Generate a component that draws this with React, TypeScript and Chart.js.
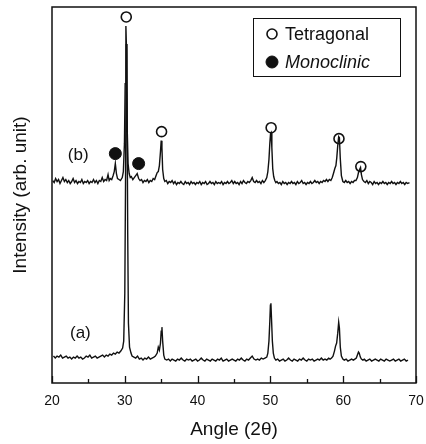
import React, { useEffect, useRef } from "react";
import { Chart, registerables } from "chart.js";

Chart.register(...registerables);

// Angle (2θ) tick labels
const angleTicks = [20, 30, 40, 50, 60, 70];
const minorTicks = [25, 35, 45, 55, 65];

// Pattern (a): [2θ, intensity]
const patternA: [number, number][] = [
  [20.2, 27], [20.45, 25], [20.7, 27], [20.95, 26], [21.2, 28], [21.45, 25], [21.7, 26], [21.95, 27],
  [22.2, 25], [22.45, 26], [22.7, 24], [22.95, 26], [23.2, 25], [23.45, 27], [23.7, 25], [23.95, 26],
  [24.2, 24], [24.45, 25], [24.7, 27], [24.95, 26], [25.2, 28], [25.45, 25], [25.7, 26], [25.95, 27],
  [26.2, 25], [26.45, 26], [26.7, 27], [26.95, 28], [27.2, 26], [27.45, 28], [27.7, 27], [27.95, 29],
  [28.2, 28], [28.45, 30], [28.7, 29], [28.95, 31], [29.2, 30], [29.45, 32], [29.7, 35], [29.85, 42],
  [30.0, 90], [30.1, 200], [30.2, 340], [30.3, 300], [30.4, 150], [30.5, 60], [30.65, 36], [30.85, 30],
  [31.0, 27], [31.25, 26], [31.5, 25], [31.75, 27], [32.0, 24], [32.25, 25], [32.5, 23], [32.75, 25],
  [33.0, 24], [33.25, 26], [33.5, 24], [33.75, 25], [34.0, 26], [34.2, 27], [34.45, 30], [34.6, 36],
  [34.75, 33], [34.9, 40], [35.0, 52], [35.1, 56], [35.2, 42], [35.35, 28], [35.5, 24], [35.75, 23],
  [36.0, 24], [36.25, 22], [36.5, 24], [36.75, 23], [37.0, 22], [37.25, 24], [37.5, 23], [37.75, 25],
  [38.0, 23], [38.25, 22], [38.5, 24], [38.75, 23], [39.0, 24], [39.25, 22], [39.5, 23], [39.75, 24],
  [40.0, 22], [40.25, 23], [40.5, 25], [40.75, 23], [41.0, 22], [41.25, 24], [41.5, 23], [41.75, 22],
  [42.0, 24], [42.25, 23], [42.5, 22], [42.75, 24], [43.0, 23], [43.25, 25], [43.5, 22], [43.75, 23],
  [44.0, 24], [44.25, 22], [44.5, 23], [44.75, 24], [45.0, 23], [45.25, 22], [45.5, 24], [45.75, 23],
  [46.0, 25], [46.25, 23], [46.5, 22], [46.75, 24], [47.0, 23], [47.25, 25], [47.5, 27], [47.75, 24],
  [48.0, 23], [48.25, 24], [48.5, 23], [48.75, 25], [49.0, 24], [49.25, 25], [49.5, 26], [49.65, 30],
  [49.8, 42], [49.92, 62], [50.0, 78], [50.07, 80], [50.15, 65], [50.27, 42], [50.4, 30], [50.55, 25],
  [50.75, 23], [51.0, 24], [51.25, 22], [51.5, 23], [51.75, 24], [52.0, 22], [52.25, 23], [52.5, 25],
  [52.75, 23], [53.0, 22], [53.25, 24], [53.5, 23], [53.75, 22], [54.0, 24], [54.25, 23], [54.5, 25],
  [54.75, 23], [55.0, 22], [55.25, 24], [55.5, 23], [55.75, 24], [56.0, 22], [56.25, 23], [56.5, 24],
  [56.75, 23], [57.0, 25], [57.25, 23], [57.5, 24], [57.75, 23], [58.0, 25], [58.2, 24], [58.4, 25],
  [58.6, 27], [58.8, 32], [58.95, 37], [59.1, 40], [59.25, 50], [59.38, 61], [59.48, 55], [59.6, 36],
  [59.75, 27], [59.95, 24], [60.15, 23], [60.4, 24], [60.65, 22], [60.9, 23], [61.15, 24], [61.4, 23],
  [61.6, 24], [61.8, 25], [61.95, 28], [62.1, 31], [62.2, 30], [62.35, 26], [62.5, 24], [62.7, 23],
  [62.9, 24], [63.15, 22], [63.4, 23], [63.65, 24], [63.9, 22], [64.15, 23], [64.4, 24], [64.65, 23],
  [64.9, 22], [65.15, 24], [65.4, 23], [65.65, 22], [65.9, 24], [66.15, 23], [66.4, 22], [66.65, 23],
  [66.9, 24], [67.15, 22], [67.4, 23], [67.65, 24], [67.9, 22], [68.15, 23], [68.4, 24], [68.65, 22],
  [68.9, 23],
];

// Pattern (b): [2θ, intensity]
const patternB: [number, number][] = [
  [20.1, 203], [20.3, 201], [20.5, 205], [20.7, 202], [20.9, 204], [21.1, 200], [21.3, 203], [21.5, 206],
  [21.7, 202], [21.9, 204], [22.1, 201], [22.3, 203], [22.5, 200], [22.7, 202], [22.9, 205], [23.1, 201],
  [23.3, 203], [23.5, 200], [23.7, 202], [23.9, 201], [24.1, 204], [24.3, 200], [24.5, 202], [24.7, 201],
  [24.9, 203], [25.1, 200], [25.3, 202], [25.5, 201], [25.7, 204], [25.9, 201], [26.1, 203], [26.3, 200],
  [26.5, 203], [26.7, 202], [26.9, 206], [27.1, 202], [27.3, 204], [27.5, 203], [27.7, 209], [27.85, 203],
  [28.0, 205], [28.2, 204], [28.4, 208], [28.55, 212], [28.7, 220], [28.85, 210], [29.0, 205], [29.2, 204],
  [29.4, 203], [29.65, 206], [29.8, 212], [29.95, 240], [30.05, 300], [30.15, 358], [30.25, 330], [30.35, 250],
  [30.45, 220], [30.6, 210], [30.75, 206], [30.9, 207], [31.1, 204], [31.3, 206], [31.5, 208], [31.7, 210],
  [31.9, 205], [32.1, 203], [32.3, 204], [32.5, 201], [32.7, 203], [32.9, 202], [33.1, 204], [33.3, 201],
  [33.5, 203], [33.7, 202], [33.9, 205], [34.1, 204], [34.3, 208], [34.45, 211], [34.6, 212], [34.75, 218],
  [34.9, 232], [35.0, 243], [35.1, 236], [35.2, 214], [35.35, 205], [35.5, 202], [35.7, 203], [35.9, 200],
  [36.1, 202], [36.3, 201], [36.5, 203], [36.7, 200], [36.9, 202], [37.1, 199], [37.3, 201], [37.5, 200],
  [37.7, 202], [37.9, 200], [38.1, 199], [38.3, 202], [38.5, 200], [38.7, 201], [38.9, 199], [39.1, 202],
  [39.3, 200], [39.5, 201], [39.7, 199], [39.9, 201], [40.1, 200], [40.3, 202], [40.5, 199], [40.7, 201],
  [40.9, 200], [41.1, 202], [41.3, 199], [41.5, 200], [41.7, 202], [41.9, 200], [42.1, 201], [42.3, 199],
  [42.5, 202], [42.7, 200], [42.9, 201], [43.1, 200], [43.3, 202], [43.5, 199], [43.7, 201], [43.9, 200],
  [44.1, 202], [44.3, 200], [44.5, 201], [44.7, 203], [44.9, 200], [45.1, 202], [45.3, 200], [45.5, 201],
  [45.7, 199], [45.9, 202], [46.1, 200], [46.3, 203], [46.5, 201], [46.7, 200], [46.9, 202], [47.1, 201],
  [47.3, 203], [47.5, 206], [47.7, 202], [47.9, 201], [48.1, 203], [48.3, 201], [48.5, 202], [48.7, 200],
  [48.9, 203], [49.1, 201], [49.3, 203], [49.5, 206], [49.65, 212], [49.8, 224], [49.92, 240], [50.02, 250],
  [50.1, 251], [50.2, 236], [50.32, 215], [50.45, 207], [50.6, 203], [50.75, 201], [50.9, 202], [51.1, 200],
  [51.3, 201], [51.5, 199], [51.7, 202], [51.9, 200], [52.1, 201], [52.3, 199], [52.5, 201], [52.7, 200],
  [52.9, 202], [53.1, 200], [53.3, 201], [53.5, 199], [53.7, 202], [53.9, 200], [54.1, 201], [54.3, 203],
  [54.5, 200], [54.7, 201], [54.9, 199], [55.1, 201], [55.3, 200], [55.5, 202], [55.7, 200], [55.9, 201],
  [56.1, 203], [56.3, 201], [56.5, 202], [56.7, 200], [56.9, 202], [57.1, 201], [57.3, 203], [57.5, 202],
  [57.7, 204], [57.9, 202], [58.1, 204], [58.3, 203], [58.5, 206], [58.7, 211], [58.85, 215], [59.0, 218],
  [59.12, 226], [59.25, 238], [59.38, 247], [59.48, 246], [59.6, 225], [59.75, 208], [59.95, 202], [60.15, 201],
  [60.35, 203], [60.55, 201], [60.75, 202], [60.95, 200], [61.15, 202], [61.35, 201], [61.55, 203], [61.75, 203],
  [61.95, 206], [62.1, 211], [62.25, 214], [62.38, 216], [62.5, 209], [62.65, 204], [62.85, 202], [63.05, 201],
  [63.25, 203], [63.45, 200], [63.65, 202], [63.85, 201], [64.05, 199], [64.25, 202], [64.45, 200], [64.65, 201],
  [64.85, 199], [65.05, 201], [65.25, 200], [65.45, 202], [65.65, 200], [65.85, 201], [66.05, 199], [66.25, 201],
  [66.45, 200], [66.65, 202], [66.85, 200], [67.05, 201], [67.25, 199], [67.45, 201], [67.65, 200], [67.85, 202],
  [68.05, 200], [68.25, 201], [68.45, 199], [68.65, 201], [68.85, 200], [69.1, 201],
];

// Phase markers: [2θ, intensity]
const tetragonalMarks: [number, number][] = [
  [30.2, 367], [35.05, 252], [50.1, 256], [59.42, 245], [62.42, 217],
];
const monoclinicMarks: [number, number][] = [
  [28.7, 230], [31.9, 220],
];

// Curve labels: [text, 2θ, intensity]
const curveLabels: [string, number, number][] = [
  ["(b)", 23.6, 228],
  ["(a)", 23.9, 50],
];

const xTitle = "Angle (2\u03b8)";
const yTitle = "Intensity (arb. unit)";
const FONT = "'Liberation Sans', Arial, sans-serif";

export default function App() {
  const canvasRef = useRef<HTMLCanvasElement | null>(null);

  useEffect(() => {
    const canvas = canvasRef.current;
    if (!canvas) return;

    const decor = {
      id: "decor",
      afterDatasetsDraw(chart: any) {
        const { ctx, chartArea: a, scales } = chart;
        const x = scales.x;
        const y = scales.y;
        ctx.save();
        // frame
        ctx.strokeStyle = "#111";
        ctx.lineWidth = 1.5;
        ctx.strokeRect(a.left, a.top, a.right - a.left, a.bottom - a.top);
        // inward ticks
        ctx.lineWidth = 1.3;
        ctx.beginPath();
        angleTicks.forEach((t) => {
          const px = Math.round(x.getPixelForValue(t)) + 0.5;
          ctx.moveTo(px, a.bottom);
          ctx.lineTo(px, a.bottom - 7);
        });
        minorTicks.forEach((t) => {
          const px = Math.round(x.getPixelForValue(t)) + 0.5;
          ctx.moveTo(px, a.bottom);
          ctx.lineTo(px, a.bottom - 4);
        });
        ctx.stroke();

        // curve labels
        ctx.fillStyle = "#111";
        ctx.font = `17px ${FONT}`;
        ctx.textAlign = "center";
        ctx.textBaseline = "middle";
        curveLabels.forEach(([t, ax, iv]) => {
          ctx.fillText(t, x.getPixelForValue(ax), y.getPixelForValue(iv));
        });

        // axis titles
        ctx.font = `19px ${FONT}`;
        ctx.fillText(xTitle, (a.left + a.right) / 2, 430);
        ctx.save();
        ctx.translate(21, (a.top + a.bottom) / 2);
        ctx.rotate(-Math.PI / 2);
        ctx.fillText(yTitle, 0, 0);
        ctx.restore();

        // legend box
        const bx = 253, by = 18, bw = 147, bh = 58;
        ctx.lineWidth = 1;
        ctx.strokeStyle = "#111";
        ctx.strokeRect(bx + 0.5, by + 0.5, bw, bh);
        const items = chart.data.datasets.filter((d: any) => d.showInLegend);
        items.forEach((d: any, i: number) => {
          const cy = by + 16 + i * 28;
          const cx = bx + 19;
          ctx.beginPath();
          ctx.arc(cx, cy, d.pointRadius, 0, Math.PI * 2);
          ctx.fillStyle = d.pointBackgroundColor;
          ctx.fill();
          ctx.lineWidth = d.pointBorderWidth;
          ctx.strokeStyle = d.pointBorderColor;
          ctx.stroke();
          ctx.fillStyle = "#111";
          ctx.textAlign = "left";
          ctx.font = `${d.legendItalic ? "italic " : ""}18px ${FONT}`;
          ctx.fillText(d.label, bx + 32, cy + 1);
        });
        ctx.restore();
      },
    };

    const toXY = (arr: [number, number][]) => arr.map(([a, v]) => ({ x: a, y: v }));

    const chart = new Chart(canvas, {
      type: "scatter",
      data: {
        datasets: [
          {
            label: "(a)",
            data: toXY(patternA),
            showLine: true,
            borderColor: "#111111",
            borderWidth: 1.4,
            pointRadius: 0,
            tension: 0,
          } as any,
          {
            label: "(b)",
            data: toXY(patternB),
            showLine: true,
            borderColor: "#111111",
            borderWidth: 1.4,
            pointRadius: 0,
            tension: 0,
          } as any,
          {
            label: "Tetragonal",
            data: toXY(tetragonalMarks),
            showLine: false,
            pointRadius: 5,
            pointBorderWidth: 1.6,
            pointBackgroundColor: "#ffffff",
            pointBorderColor: "#111111",
            showInLegend: true,
            legendItalic: false,
          } as any,
          {
            label: "Monoclinic",
            data: toXY(monoclinicMarks),
            showLine: false,
            pointRadius: 6,
            pointBorderWidth: 1,
            pointBackgroundColor: "#111111",
            pointBorderColor: "#111111",
            showInLegend: true,
            legendItalic: true,
          } as any,
        ],
      },
      options: {
        responsive: false,
        animation: false,
        devicePixelRatio: 1,
        layout: { padding: { left: 52, right: 10, top: 6, bottom: 0 } },
        plugins: {
          legend: { display: false },
          tooltip: { enabled: false },
        },
        scales: {
          x: {
            type: "linear",
            min: 20,
            max: 70,
            afterFit: (s: any) => {
              s.height = 61;
              s.paddingLeft = 0;
              s.paddingRight = 0;
            },
            afterBuildTicks: (s: any) => {
              s.ticks = angleTicks.map((v) => ({ value: v }));
            },
            grid: { display: false, drawTicks: false },
            border: { display: false },
            ticks: {
              padding: 10,
              color: "#111",
              font: { family: FONT, size: 14 },
              maxRotation: 0,
            },
          },
          y: {
            type: "linear",
            min: 0,
            max: 377,
            display: false,
          },
        },
      } as any,
      plugins: [decor],
    });

    return () => chart.destroy();
  }, []);

  return (
    <div style={{ position: "fixed", left: 0, top: 0, width: 426, height: 444, background: "#fff" }}>
      <canvas ref={canvasRef} width={426} height={444} />
    </div>
  );
}
